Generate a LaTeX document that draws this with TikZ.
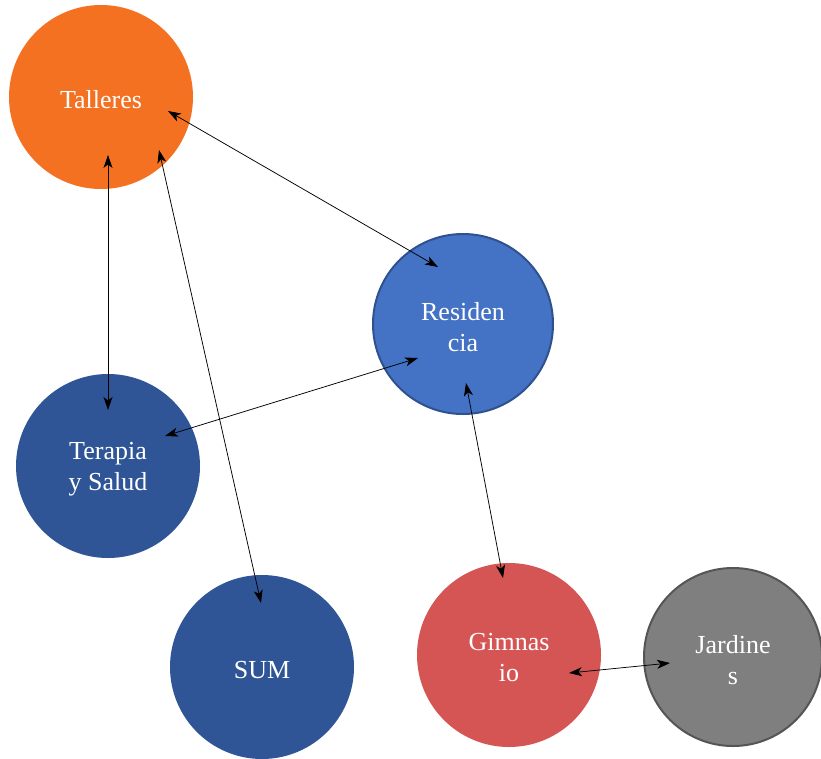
\documentclass[tikz,border=0pt]{standalone}
\usepackage{fontspec}
\setmainfont{Liberation Serif}
\usetikzlibrary{arrows.meta}
\definecolor{corange}{HTML}{F47121}
\definecolor{cblue}{HTML}{4472C4}
\definecolor{cblueb}{HTML}{2F528F}
\definecolor{cdark}{HTML}{2F5597}
\definecolor{cred}{HTML}{D55454}
\definecolor{cgray}{HTML}{7F7F7F}
\definecolor{cgrayb}{HTML}{555555}
\tikzset{
  bub/.style={circle, minimum size=184pt, inner sep=0pt},
  txt/.style={text=white, align=center, yshift=-3pt,
    font=\fontsize{26}{31}\selectfont},
  link/.style={{Stealth[length=13pt,width=9pt,inset=3.5pt]}-{Stealth[length=13pt,width=9pt,inset=3.5pt]}, line width=0.75pt, black}
}
\begin{document}
\begin{tikzpicture}[x=1pt,y=-1pt]
\useasboundingbox (0,0) rectangle (821,758);
\node[bub, fill=corange, label={[txt]center:Talleres}] (tal) at (101,97) {};
\node[bub, fill=cblue, draw=cblueb, line width=2pt, minimum size=180pt, label={[txt]center:Residen\\cia}] (res) at (463,324) {};
\node[bub, fill=cdark, label={[txt]center:Terapia\\y Salud}] (ter) at (108,466) {};
\node[bub, fill=cdark, label={[txt]center:SUM}] (sum) at (262,667) {};
\node[bub, fill=cred, label={[txt]center:Gimnas\\io}] (gim) at (509,655) {};
\node[bub, fill=cgray, draw=cgrayb, line width=2pt, minimum size=178pt, label={[txt]center:Jardine\\s}] (jar) at (733,657) {};
\coordinate (a1) at (168,111); \coordinate (a2) at (438,267);
\coordinate (b1) at (108,155); \coordinate (b2) at (108,410);
\coordinate (c1) at (159,150); \coordinate (c2) at (261,603);
\coordinate (d1) at (418,358); \coordinate (d2) at (165,436);
\coordinate (e1) at (466,383); \coordinate (e2) at (503,578);
\coordinate (f1) at (569,673); \coordinate (f2) at (670,663);
\draw[link] (a1) -- (a2);
\draw[link] (b1) -- (b2);
\draw[link] (c1) -- (c2);
\draw[link] (d1) -- (d2);
\draw[link] (e1) -- (e2);
\draw[link] (f1) -- (f2);
\end{tikzpicture}
\end{document}
